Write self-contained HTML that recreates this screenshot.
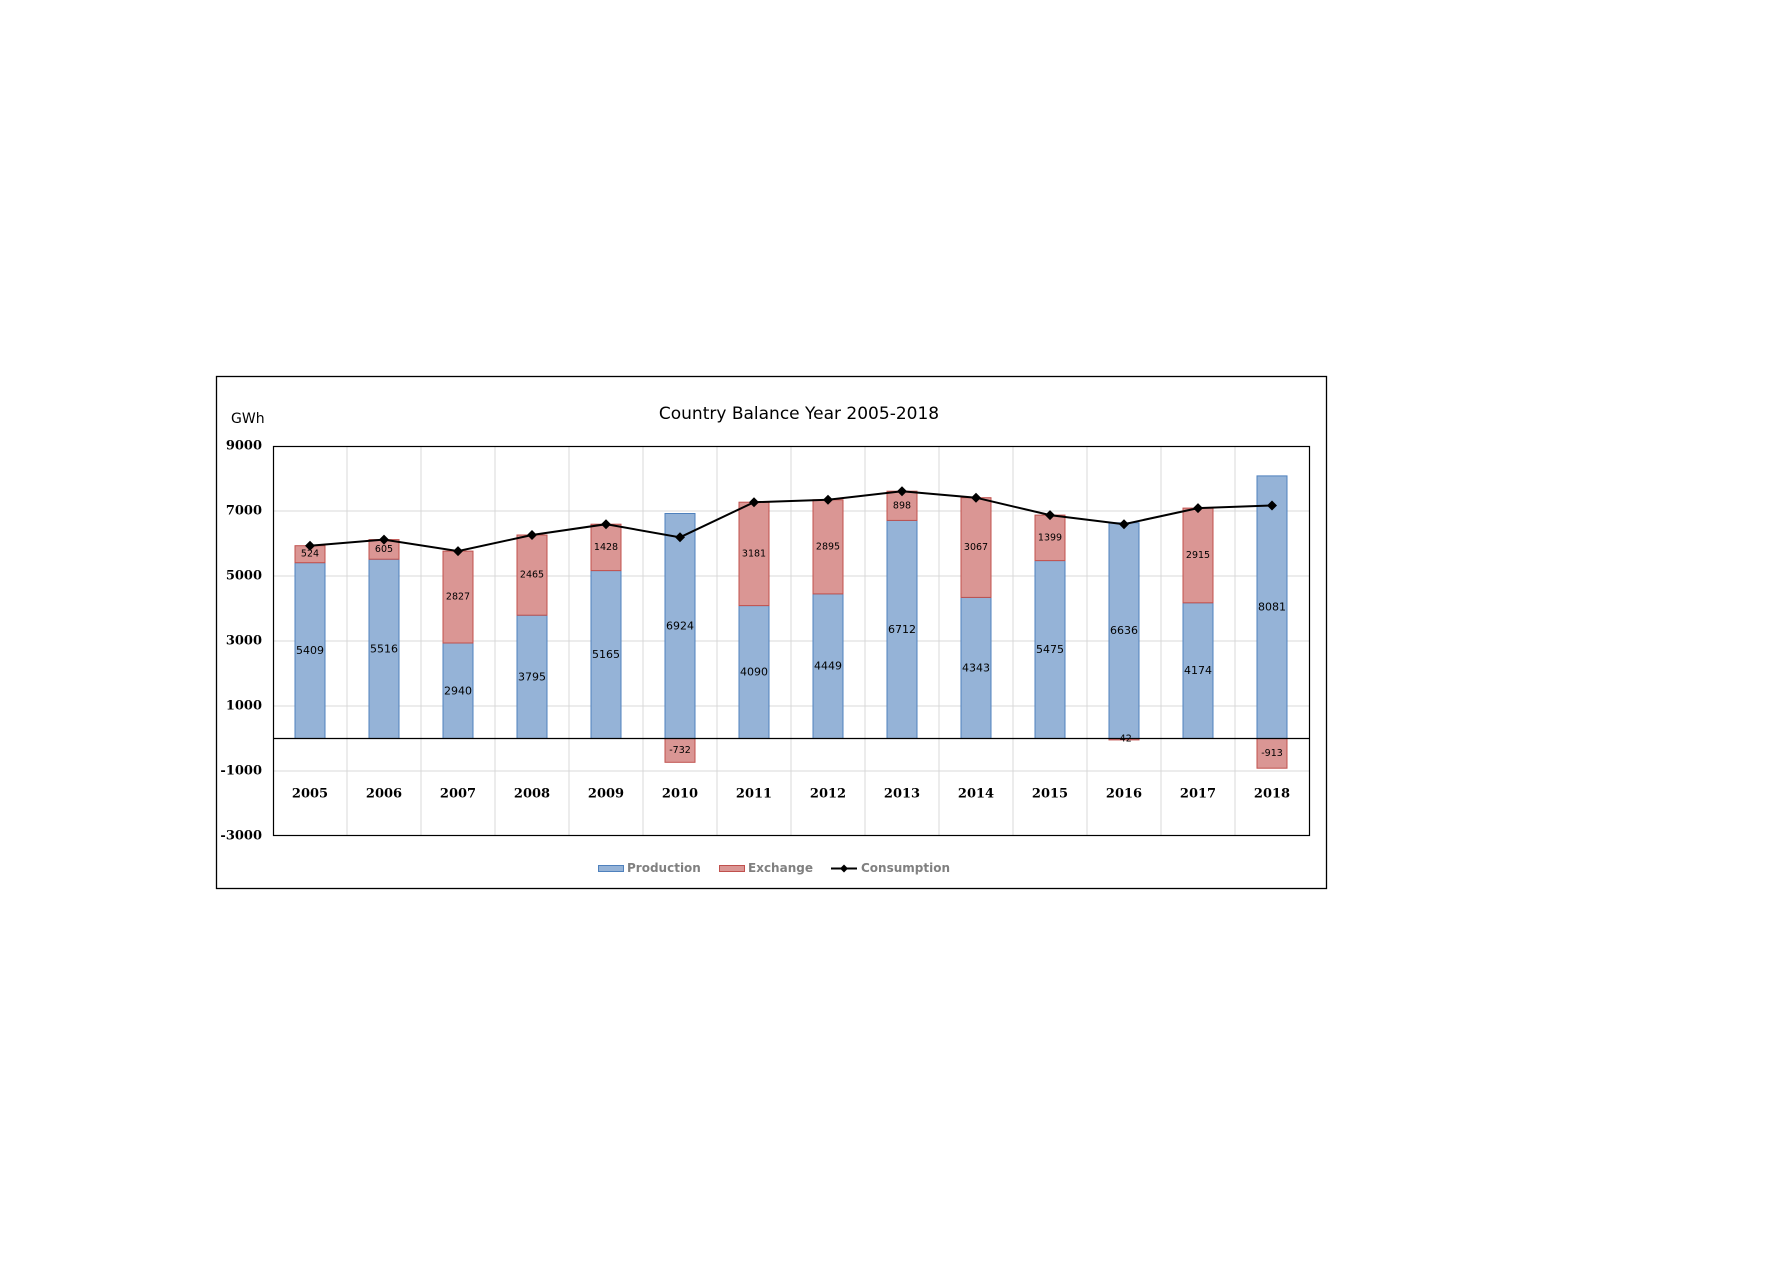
<!DOCTYPE html>
<html><head><meta charset="utf-8"><style>
html,body{margin:0;padding:0;background:#fff;}
svg{display:block;}
.t{font-family:"DejaVu Serif","Liberation Serif",serif;font-weight:bold;font-size:13px;fill:#000;}
.p{font-family:"DejaVu Sans","Liberation Sans",sans-serif;font-size:11px;fill:#000;text-anchor:middle;dominant-baseline:central;}
.e{font-family:"DejaVu Sans","Liberation Sans",sans-serif;font-size:9.5px;fill:#000;text-anchor:middle;dominant-baseline:central;}
.l{font-family:"DejaVu Sans","Liberation Sans",sans-serif;font-weight:bold;font-size:12px;fill:#808080;dominant-baseline:central;}
</style></head><body>
<svg width="1767" height="1274" viewBox="0 0 1767 1274" xmlns="http://www.w3.org/2000/svg">
<rect x="216.5" y="376.5" width="1110" height="512" fill="#fff" stroke="#000" stroke-width="1.3"/>
<text x="799" y="414" font-family="DejaVu Sans,Liberation Sans,sans-serif" font-size="17" text-anchor="middle" dominant-baseline="central">Country Balance Year 2005-2018</text>
<text x="231" y="419" font-family="DejaVu Sans,Liberation Sans,sans-serif" font-size="14" dominant-baseline="central">GWh</text>
<g stroke="#d9d9d9" stroke-width="1">
<line x1="273" y1="511" x2="1309" y2="511"/><line x1="273" y1="576" x2="1309" y2="576"/><line x1="273" y1="641" x2="1309" y2="641"/><line x1="273" y1="706" x2="1309" y2="706"/><line x1="273" y1="771" x2="1309" y2="771"/>
<line x1="347" y1="446" x2="347" y2="835"/><line x1="421" y1="446" x2="421" y2="835"/><line x1="495" y1="446" x2="495" y2="835"/><line x1="569" y1="446" x2="569" y2="835"/><line x1="643" y1="446" x2="643" y2="835"/><line x1="717" y1="446" x2="717" y2="835"/><line x1="791" y1="446" x2="791" y2="835"/><line x1="865" y1="446" x2="865" y2="835"/><line x1="939" y1="446" x2="939" y2="835"/><line x1="1013" y1="446" x2="1013" y2="835"/><line x1="1087" y1="446" x2="1087" y2="835"/><line x1="1161" y1="446" x2="1161" y2="835"/><line x1="1235" y1="446" x2="1235" y2="835"/>
</g>
<rect x="273.5" y="446.5" width="1036" height="389" fill="none" stroke="#000" stroke-width="1.2"/>
<g class="t" text-anchor="end" dominant-baseline="central">
<text x="262" y="446">9000</text><text x="262" y="511">7000</text><text x="262" y="576">5000</text><text x="262" y="641">3000</text><text x="262" y="706">1000</text><text x="262" y="771">-1000</text><text x="262" y="836">-3000</text>
</g>
<g fill="#95b3d7" stroke="#4f81bd" stroke-width="1">
<rect x="295" y="562.7" width="30" height="175.8"/><rect x="369" y="559.2" width="30" height="179.3"/><rect x="443" y="643" width="30" height="95.5"/><rect x="517" y="615.2" width="30" height="123.3"/><rect x="591" y="570.6" width="30" height="167.9"/><rect x="665" y="513.5" width="30" height="225"/><rect x="739" y="605.6" width="30" height="132.9"/><rect x="813" y="593.9" width="30" height="144.6"/><rect x="887" y="520.4" width="30" height="218.1"/><rect x="961" y="597.4" width="30" height="141.1"/><rect x="1035" y="560.6" width="30" height="177.9"/><rect x="1109" y="522.8" width="30" height="215.7"/><rect x="1183" y="602.8" width="30" height="135.7"/><rect x="1257" y="475.9" width="30" height="262.6"/>
</g>
<g fill="#da9694" stroke="#c0504d" stroke-width="1">
<rect x="295" y="545.7" width="30" height="17"/><rect x="369" y="539.6" width="30" height="19.6"/><rect x="443" y="551.1" width="30" height="91.9"/><rect x="517" y="535" width="30" height="80.2"/><rect x="591" y="524.2" width="30" height="46.4"/><rect x="665" y="738.5" width="30" height="23.8"/><rect x="739" y="502.2" width="30" height="103.4"/><rect x="813" y="499.8" width="30" height="94.1"/><rect x="887" y="491.2" width="30" height="29.2"/><rect x="961" y="497.7" width="30" height="99.7"/><rect x="1035" y="515.1" width="30" height="45.5"/><rect x="1109" y="738.5" width="30" height="1.4"/><rect x="1183" y="508.1" width="30" height="94.7"/><rect x="1257" y="738.5" width="30" height="29.7"/>
</g>
<line x1="273" y1="738.5" x2="1309" y2="738.5" stroke="#000" stroke-width="1.2"/>
<g>
<text class="p" x="310" y="650.6">5409</text><text class="p" x="384" y="648.9">5516</text><text class="p" x="458" y="690.8">2940</text><text class="p" x="532" y="676.9">3795</text><text class="p" x="606" y="654.6">5165</text><text class="p" x="680" y="626">6924</text><text class="p" x="754" y="672.1">4090</text><text class="p" x="828" y="666.2">4449</text><text class="p" x="902" y="629.5">6712</text><text class="p" x="976" y="668">4343</text><text class="p" x="1050" y="649.6">5475</text><text class="p" x="1124" y="630.7">6636</text><text class="p" x="1198" y="670.7">4174</text><text class="p" x="1272" y="607.2">8081</text>
<text class="e" x="310" y="554.2">524</text><text class="e" x="384" y="549.4">605</text><text class="e" x="458" y="597.1">2827</text><text class="e" x="532" y="575.1">2465</text><text class="e" x="606" y="547.4">1428</text><text class="e" x="680" y="750.4">-732</text><text class="e" x="754" y="553.9">3181</text><text class="e" x="828" y="546.9">2895</text><text class="e" x="902" y="505.8">898</text><text class="e" x="976" y="547.6">3067</text><text class="e" x="1050" y="537.9">1399</text><text class="e" x="1124" y="739.2">-42</text><text class="e" x="1198" y="555.5">2915</text><text class="e" x="1272" y="753.4">-913</text>
</g>
<polyline fill="none" stroke="#000" stroke-width="2" points="310,545.7 384,539.6 458,551.1 532,535 606,524.2 680,537.3 754,502.2 828,499.8 902,491.2 976,497.7 1050,515.1 1124,524.2 1198,508.1 1272,505.5"/>
<g fill="#000">
<path d="M310 540.7l5 5-5 5-5-5z"/><path d="M384 534.6l5 5-5 5-5-5z"/><path d="M458 546.1l5 5-5 5-5-5z"/><path d="M532 530l5 5-5 5-5-5z"/><path d="M606 519.2l5 5-5 5-5-5z"/><path d="M680 532.3l5 5-5 5-5-5z"/><path d="M754 497.2l5 5-5 5-5-5z"/><path d="M828 494.8l5 5-5 5-5-5z"/><path d="M902 486.2l5 5-5 5-5-5z"/><path d="M976 492.7l5 5-5 5-5-5z"/><path d="M1050 510.1l5 5-5 5-5-5z"/><path d="M1124 519.2l5 5-5 5-5-5z"/><path d="M1198 503.1l5 5-5 5-5-5z"/><path d="M1272 500.5l5 5-5 5-5-5z"/>
</g>
<g class="t" text-anchor="middle" dominant-baseline="central">
<text x="310" y="794">2005</text><text x="384" y="794">2006</text><text x="458" y="794">2007</text><text x="532" y="794">2008</text><text x="606" y="794">2009</text><text x="680" y="794">2010</text><text x="754" y="794">2011</text><text x="828" y="794">2012</text><text x="902" y="794">2013</text><text x="976" y="794">2014</text><text x="1050" y="794">2015</text><text x="1124" y="794">2016</text><text x="1198" y="794">2017</text><text x="1272" y="794">2018</text>
</g>
<rect x="598.5" y="865.5" width="25" height="6" fill="#95b3d7" stroke="#4f81bd"/>
<text class="l" x="627" y="868">Production</text>
<rect x="719.5" y="865.5" width="25" height="6" fill="#da9694" stroke="#c0504d"/>
<text class="l" x="748" y="868">Exchange</text>
<line x1="831" y1="868.5" x2="857" y2="868.5" stroke="#000" stroke-width="2"/>
<path d="M844 864.5l4 4-4 4-4-4z" fill="#000"/>
<text class="l" x="861" y="868">Consumption</text>
</svg>
</body></html>
